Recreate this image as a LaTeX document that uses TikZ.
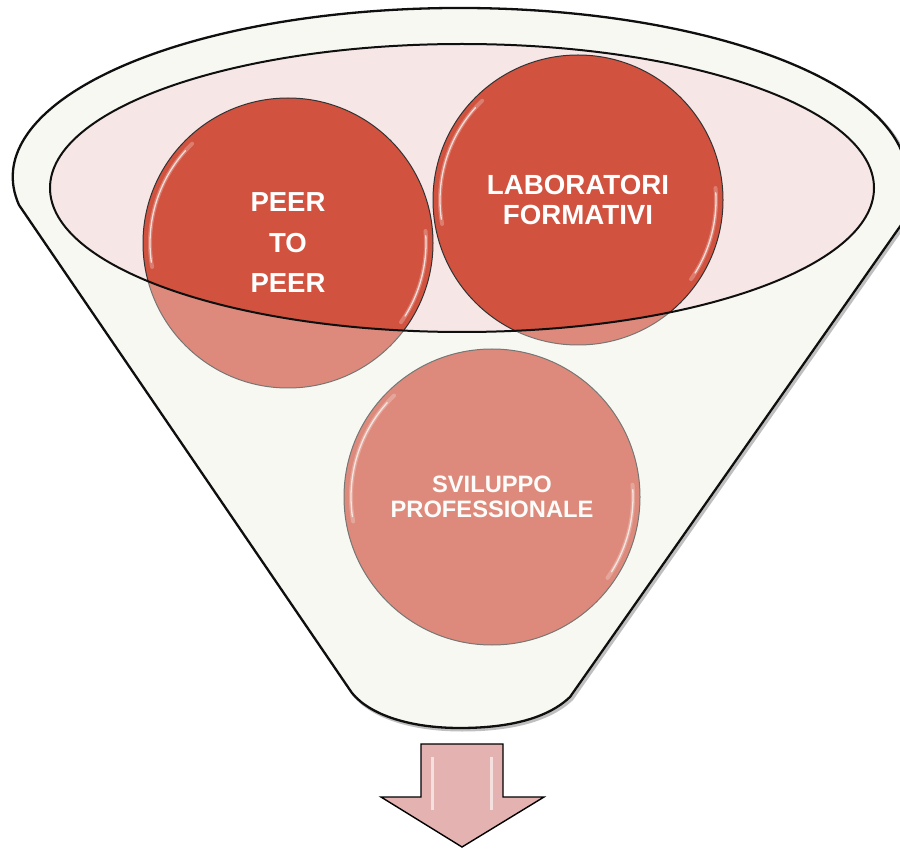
\documentclass[tikz,border=0pt]{standalone}
\usepackage{fontspec}
\setmainfont{Liberation Sans}
\definecolor{funnelfill}{RGB}{248,248,242}
\definecolor{rimfill}{RGB}{246,230,229}
\definecolor{ballred}{RGB}{208,82,63}
\definecolor{arrowpink}{RGB}{228,178,176}
\definecolor{ringline}{RGB}{15,15,15}
\def\funnelpath{(19,205) arc[start angle=170.45, end angle=365, x radius=447, y radius=169] -- (913,208) -- (570,697) .. controls (548,718) and (510,728) .. (460,728) .. controls (410,728) and (370,715) .. (352,693) -- cycle}
\begin{document}
\begin{tikzpicture}[x=1pt,y=-1pt,
  ball/.style={circle, draw=black!80, line width=1pt, fill=ballred, inner sep=0pt, text=white, align=center},
  hlsoft/.style={white, line width=4pt, opacity=0.25, line cap=round},
  hl/.style={white, line width=1.3pt, opacity=0.75, line cap=round}]
\useasboundingbox (0,0) rectangle (900,850);
% funnel shadow and body
\draw[black!25, line width=3pt, shift={(2,2)}] \funnelpath;
\fill[funnelfill] \funnelpath;
\fill[rimfill] (462,188) ellipse [x radius=412, y radius=144];
% balls
\node[ball, minimum size=290pt, font=\bfseries\fontsize{27.5}{40.5}\selectfont] (peer) at (288,243) {PEER\\TO\\PEER};
\node[ball, minimum size=290pt, font=\bfseries\fontsize{27.7}{30}\selectfont] (lab) at (578,200) {LABORATORI\\FORMATIVI};
\node[ball, minimum size=296pt, font=\bfseries\fontsize{23.7}{25}\selectfont] (svil) at (492,497) {SVILUPPO\\PROFESSIONALE};
% glossy highlights
\foreach \n/\r in {peer/138, lab/138, svil/141}{
  \draw[hlsoft] ([shift={(170:\r)}]\n.center) arc[start angle=170, end angle=226, radius=\r];
  \draw[hl] ([shift={(172:\r)}]\n.center) arc[start angle=172, end angle=222, radius=\r];
  \draw[hlsoft] ([shift={(-5:\r)}]\n.center) arc[start angle=-5, end angle=35, radius=\r];
  \draw[hl] ([shift={(-3:\r)}]\n.center) arc[start angle=-3, end angle=32, radius=\r];
}
% front of funnel (semi-transparent)
\fill[funnelfill, opacity=0.34, even odd rule] \funnelpath (462,188) ellipse [x radius=412, y radius=144];
% outlines
\draw[ringline, line width=2.3pt, line join=round] \funnelpath;
\draw[ringline, line width=2pt] (462,188) ellipse [x radius=412, y radius=144];
% arrow
\coordinate (arrowtip) at (462,847);
\draw[black, line width=1.4pt, fill=arrowpink, line join=miter] (421,744) -- (503,744) -- (503,797) -- (544,797) -- (arrowtip) -- (381,797) -- (421,797) -- cycle;
\draw[white, line width=3pt, opacity=0.6] (432,757) -- (432,810);
\draw[white, line width=3pt, opacity=0.6] (491,757) -- (491,810);
\end{tikzpicture}
\end{document}
